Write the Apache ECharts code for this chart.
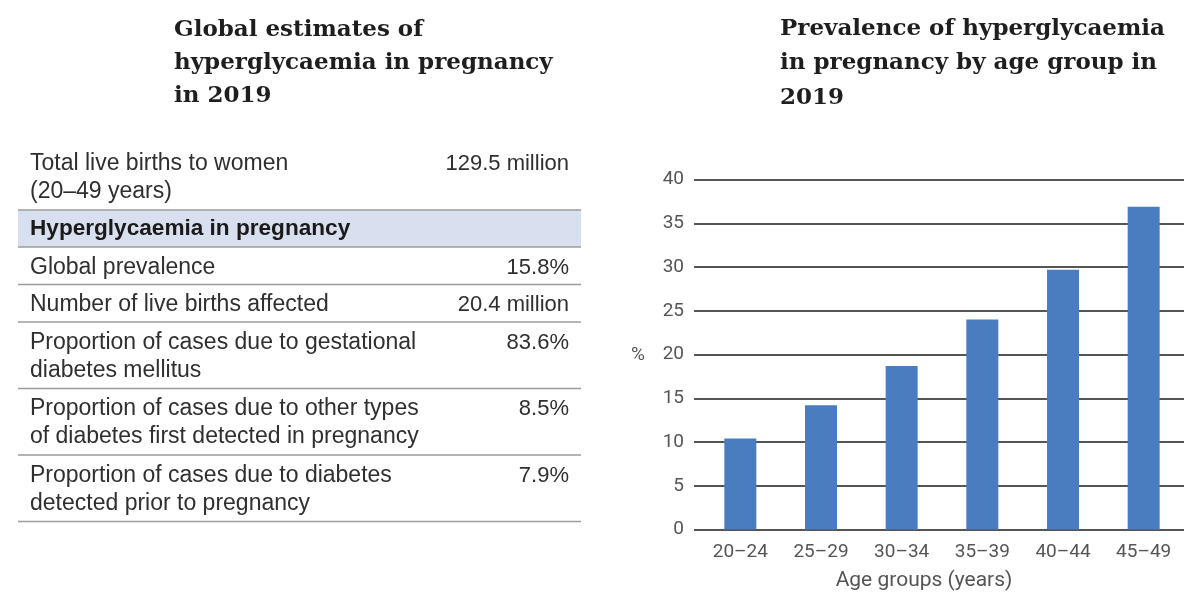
<!DOCTYPE html>
<html><head><meta charset="utf-8">
<script src="https://cdn.jsdelivr.net/npm/echarts@6/dist/echarts.min.js"></script>
<style>html,body{margin:0;padding:0;background:#fff}#c{width:1184px;height:592px}</style>
</head><body><div id="c"></div>
<script>
// ---- data ----
const leftTitle = "Global estimates of\nhyperglycaemia in pregnancy\nin 2019";
const rightTitle = "Prevalence of hyperglycaemia\nin pregnancy by age group in\n2019";
const tableHeader = "Hyperglycaemia in pregnancy";
const firstRowLabel = ["Total live births to women", "(20–49 years)"];
const firstRowValue = "129.5 million";
const tableLabels = [
  ["Global prevalence"],
  ["Number of live births affected"],
  ["Proportion of cases due to gestational", "diabetes mellitus"],
  ["Proportion of cases due to other types", "of diabetes first detected in pregnancy"],
  ["Proportion of cases due to diabetes", "detected prior to pregnancy"]
];
const tableValues = ["15.8%", "20.4 million", "83.6%", "8.5%", "7.9%"];
const ageGroups = ["20–24", "25–29", "30–34", "35–39", "40–44", "45–49"];
const prevalence = [10.4, 14.2, 18.7, 24.0, 29.7, 36.9];
const yAxisName = "%";
const xAxisName = "Age groups (years)";

// ---- layout / style ----
const TXT = '#2f2f2f', SANS = '"Liberation Sans", Arial, sans-serif';
const SERIF = '"DejaVu Serif", serif', CH = 'Roboto, sans-serif', AX = '#555';
const TL = 18, TR = 581, PADL = 30, PADR = 569, LH = 28;
const LABF = '23px ' + SANS, VALF = '22px ' + SANS;
const g = [];
function txt(x, y, t, o) {
  g.push(Object.assign({type: 'text', x: x, y: y, silent: true,
    style: Object.assign({text: t, font: LABF, fill: TXT,
      align: 'left', textAlign: 'left', verticalAlign: 'middle', textVerticalAlign: 'middle'}, o || {})}));
}
function hline(y) {
  g.push({type: 'line', silent: true, shape: {x1: TL, y1: y, x2: TR, y2: y},
    style: {stroke: '#9d9d9d', lineWidth: 1.5}});
}
// titles
txt(174, 13.5, leftTitle, {font: 'bold 23px ' + SERIF, fill: '#1e1e1e', lineHeight: 33,
  verticalAlign: 'top', textVerticalAlign: 'top'});
txt(780, 11.5, rightTitle, {font: 'bold 23px ' + SERIF, fill: '#1e1e1e', lineHeight: 34.5,
  verticalAlign: 'top', textVerticalAlign: 'top'});
// first row
firstRowLabel.forEach((l, k) => txt(PADL, 163.5 + k * LH, l));
txt(PADR, 163.5, firstRowValue, {font: VALF, align: 'right', textAlign: 'right'});
// header band
g.push({type: 'rect', silent: true, shape: {x: TL, y: 210, width: TR - TL, height: 37},
  style: {fill: '#d8dfee'}});
hline(210); hline(247);
txt(PADL, 229, tableHeader, {font: 'bold 22.6px ' + SANS, fill: '#1a1a1a'});
// body rows
let rowTop = 247;
tableLabels.forEach((lines, i) => {
  const c = rowTop + 20.5;
  lines.forEach((l, k) => txt(PADL, c + k * LH, l));
  txt(PADR, c, tableValues[i], {font: VALF, align: 'right', textAlign: 'right'});
  rowTop += lines.length === 1 ? 37.5 : 66.5;
  hline(rowTop);
});
// chart axis names
txt(638, 355, yAxisName, {font: '19px ' + CH, fill: AX, align: 'center', textAlign: 'center'});
txt(924, 581, xAxisName, {font: '21px ' + CH, fill: AX, align: 'center', textAlign: 'center'});

const chart = echarts.init(document.getElementById('c'), null, {renderer: 'canvas'});
chart.setOption({
  backgroundColor: '#fff',
  animation: false,
  grid: [
    {left: 694, right: 0, top: 179.5, bottom: 62.5},
    {left: 700, right: 0, top: 179.5, bottom: 62.5}
  ],
  xAxis: [
    {gridIndex: 0, type: 'value', min: 0, max: 1, show: false},
    {gridIndex: 1, type: 'category', data: ageGroups, axisLine: {show: false},
      axisTick: {show: false},
      axisLabel: {fontFamily: CH, fontSize: 19, color: AX, margin: 13}}
  ],
  yAxis: [
    {gridIndex: 0, type: 'value', min: 0, max: 40, interval: 5,
      axisLine: {show: false}, axisTick: {show: false},
      axisLabel: {fontFamily: CH, fontSize: 19, color: AX, margin: 10}},
    {gridIndex: 1, type: 'value', min: 0, max: 40, interval: 5, show: false,
      splitLine: {show: false}}
  ],
  series: [{
    type: 'bar', xAxisIndex: 1, yAxisIndex: 1, data: prevalence, barWidth: 32,
    itemStyle: {color: '#4a7dbf'}, z: 5
  }],
  graphic: {elements: g}
});
chart.setOption({yAxis: [{splitLine: {lineStyle: {color: '#555', width: 1.8}}}]});
</script></body></html>
